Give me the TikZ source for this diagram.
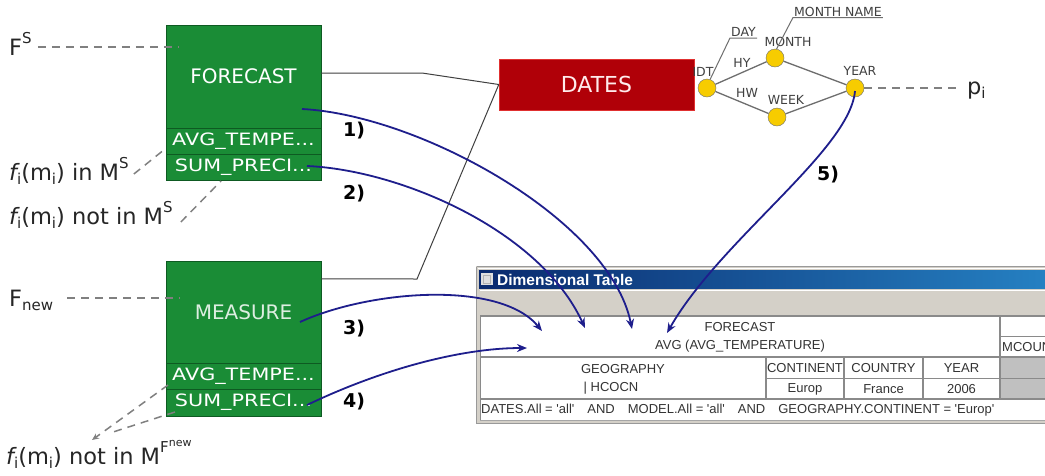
\documentclass[tikz,border=0pt]{standalone}
\usepackage{fontspec}
\usepackage{graphicx}
\setmainfont{DejaVu Sans}
\newfontfamily\tabfont{Liberation Sans}
\usetikzlibrary{arrows.meta}

\definecolor{boxgreen}{HTML}{1A8C36}
\definecolor{boxgreenline}{HTML}{0E5A22}
\definecolor{datesred}{HTML}{B00008}
\definecolor{datesedge}{HTML}{E03030}
\definecolor{arrowblue}{HTML}{1E1E8C}
\definecolor{levelyellow}{HTML}{F7CC00}
\definecolor{wingray}{HTML}{D4D0C8}
\definecolor{gridgray}{HTML}{8A8A8A}
\definecolor{cellgray}{HTML}{C0C0C0}
\definecolor{titleL}{HTML}{0A2A6E}
\definecolor{titleR}{HTML}{2580C2}
\definecolor{edgegray}{HTML}{6E6E6E}
\definecolor{labgray}{HTML}{404040}

\newcommand\subtxt[1]{\raisebox{-0.22em}{\fontsize{15}{15}\selectfont #1}}
\newcommand\suptxt[1]{\raisebox{0.5em}{\fontsize{15}{15}\selectfont #1}}
\newcommand\rowtxt[1]{\scalebox{1.22}[1]{#1}}
\newcommand\q{\textquotesingle}

\begin{document}
\begin{tikzpicture}[x=1pt,y=-1pt,
  factbox/.style={draw=boxgreenline, fill=boxgreen, minimum width=155pt,
    inner sep=0pt, text=white, font=\fontsize{20}{20}\selectfont},
  rowbox/.style={draw=boxgreenline, fill=boxgreen, minimum width=155pt,
    inner sep=0pt, text=white, font=\fontsize{17}{17}\selectfont},
  lbl/.style={inner sep=0pt, text=black!85, font=\fontsize{22.5}{22.5}\selectfont},
  num/.style={inner sep=0pt, font=\bfseries\fontsize{19}{19}\selectfont},
  level/.style={circle, draw=edgegray, fill=levelyellow, minimum size=18pt, inner sep=0pt},
  lvltxt/.style={inner sep=0pt, text=labgray, font=\fontsize{12.5}{12.5}\selectfont},
  edge/.style={draw=edgegray, line width=1.3pt},
  dashline/.style={draw=gray, dash pattern=on 8pt off 6pt, line width=1.5pt},
  link/.style={draw=black!75, line width=1pt},
  mapping/.style={draw=arrowblue, line width=1.8pt, -{Stealth[length=10pt,width=8pt]}},
  tabtxt/.style={inner sep=0pt, text=black!80, font=\tabfont\fontsize{13}{13}\selectfont},
  grid/.style={draw=gridgray, line width=1.6pt}
]
\useasboundingbox (0,0) rectangle (1045,475);
\fill[white] (0,0) rectangle (1045,475);

% ---------- dimensional table window ----------
\fill[wingray] (476,266) rectangle (1045,424);
\draw[gray!80] (476.5,266.5) -- (1045,266.5);
\draw[gray!80] (476.5,266.5) -- (476.5,423.5) -- (1045,423.5);
\draw[white] (478,268) -- (1045,268);
\shade[left color=titleL, right color=titleR] (479,270) rectangle (1045,288);
\fill[gray!25] (481,272.5) rectangle (493,285);
\draw[gray!60] (483,275) rectangle (490,283);
\node[anchor=west, inner sep=0pt, text=white, font=\tabfont\bfseries\fontsize{15.5}{15.5}\selectfont]
  (title) at (497,279.5) {Dimensional Table};
\draw[white, line width=1pt] (480,290) -- (1045,290);
\fill[white] (480,316) rectangle (1045,420);
\fill[cellgray] (1000,357) rectangle (1045,399);
\draw[grid] (480,316) -- (1045,316);
\draw[grid] (480,357) -- (1045,357);
\draw[grid] (766,378.5) -- (1045,378.5);
\draw[grid] (480,399) -- (1045,399);
\draw[grid] (1000,336.5) -- (1045,336.5);
\draw[grid] (1000,316) -- (1000,399);
\draw[grid] (766,357) -- (766,399);
\draw[grid] (844,357) -- (844,399);
\draw[grid] (923,357) -- (923,399);
\draw[grid] (480.5,316) -- (480.5,420);
\draw[gray!70, line width=1pt] (480,420.5) -- (1045,420.5);

\node[tabtxt] (hfc) at (740,327) {FORECAST};
\node[tabtxt] (havg) at (740,346) {AVG (AVG\_TEMPERATURE)};
\node[tabtxt] (hgeo) at (623,369) {GEOGRAPHY};
\node[tabtxt] (hhc) at (611,388.5) {| HCOCN};
\node[tabtxt] (hcont) at (805,368.5) {CONTINENT};
\node[tabtxt] (hctry) at (883.5,368.5) {COUNTRY};
\node[tabtxt] (hyear) at (961.5,368.5) {YEAR};
\node[tabtxt] (veur) at (805,389) {Europ};
\node[tabtxt] (vfr) at (883.5,389) {France};
\node[tabtxt] (vyr) at (961.5,389) {2006};
\node[tabtxt, anchor=west] (cond) at (481,410)
  {DATES.All = \q all\q\hspace{13pt}AND\hspace{13pt}MODEL.All = \q all\q\hspace{13pt}AND\hspace{13pt}GEOGRAPHY.CONTINENT = \q Europ\q};
\begin{scope}
  \clip (1001,337.5) rectangle (1045,356);
  \node[tabtxt, anchor=west] (mcount) at (1002,347) {MCOUNT};
\end{scope}

% ---------- fact schemata ----------
\node[factbox, minimum height=103pt] (fc) at (243.5,76.5) {FORECAST};
\node[rowbox, minimum height=26pt] (fcavg) at (243.5,141) {\rowtxt{AVG\_TEMPE...}};
\node[rowbox, minimum height=26pt] (fcsum) at (243.5,167) {\rowtxt{SUM\_PRECI...}};

\node[factbox, minimum height=102pt, text=white!85!boxgreen] (ms) at (243.5,312) {MEASURE};
\node[rowbox, minimum height=26pt] (msavg) at (243.5,376) {\rowtxt{AVG\_TEMPE...}};
\node[rowbox, minimum height=27pt] (mssum) at (243.5,402.5) {\rowtxt{SUM\_PRECI...}};

% ---------- DATES dimension and its hierarchy ----------
\node[draw=datesedge, fill=datesred, minimum width=195pt, minimum height=51pt, inner sep=0pt,
  text=white!92!red, font=\fontsize{22}{22}\selectfont] (dates) at (596.5,84.5) {DATES};

\node[level] (idt) at (707,88) {};
\node[level] (month) at (775,58) {};
\node[level] (week) at (777,117) {};
\node[level] (year) at (855,88) {};

\draw[edge] (idt) -- (month);
\draw[edge] (idt) -- (week);
\draw[edge] (month) -- (year);
\draw[edge] (week) -- (year);

\node[lvltxt] (lidt) at (703,72) {IDT};
\node[lvltxt] (lmonth) at (788,42) {MONTH};
\node[lvltxt] (lweek) at (786,100) {WEEK};
\node[lvltxt] (lyear) at (860,71) {YEAR};
\node[lvltxt] (lhy) at (742,63) {HY};
\node[lvltxt] (lhw) at (747,93) {HW};

\coordinate (dayknee) at (730,38);
\node[lvltxt, anchor=south west, inner sep=1pt] (lday) at (dayknee) {DAY};
\draw[edge, line width=1pt] (idt.70) -- (dayknee) -- (lday.south east);
\coordinate (mnknee) at (793,17.5);
\node[lvltxt, anchor=south west, inner sep=1pt] (lmn) at (mnknee) {MONTH NAME};
\draw[edge, line width=1pt] (month.80) -- (mnknee) -- (lmn.south east);

% ---------- fact-to-dimension links ----------
\draw[link] ([yshift=3.5pt]fc.east) -- (422,73) -- (dates.west);
\draw[link] ([yshift=-18pt]ms.north east) -- (417,279) -- (dates.west);

% ---------- side labels ----------
\node[lbl, anchor=base west] (fs) at (9,55) {F\suptxt{S}};
\coordinate (fsend) at (178,47);
\draw[dashline] ([shift={(6pt,8pt)}]fs.base east) -- (fsend);

\node[lbl, anchor=base west] (inms) at (9,180) {{\itshape f}\subtxt{i}(m\subtxt{i}) in M\suptxt{S}};
\coordinate (inmsend) at (165,149);
\draw[dashline] ([shift={(5pt,6pt)}]inms.base east) -- (inmsend);

\node[lbl, anchor=base west] (notinms) at (9,224) {{\itshape f}\subtxt{i}(m\subtxt{i}) not in M\suptxt{S}};
\coordinate (notinmsend) at (221,181);
\draw[dashline] ([shift={(8pt,2pt)}]notinms.base east) -- (notinmsend);

\node[lbl, anchor=base west] (fnew) at (9,306) {F\subtxt{new}};
\coordinate (fnewend) at (180,298);
\draw[dashline] ([shift={(14pt,8pt)}]fnew.base east) -- (fnewend);

\node[lbl, anchor=base west] (notinmf) at (6,464)
  {{\itshape f}\subtxt{i}(m\subtxt{i}) not in M\raisebox{0.5em}{\fontsize{15}{15}\selectfont F\raisebox{0.45em}{\fontsize{11}{11}\selectfont new}}};
\coordinate (mfa) at (168,385);
\coordinate (mfb) at (175,412);
\draw[dashline, -{Stealth[length=7pt,width=6pt]}] (mfa) -- (92,440);
\draw[dashline] (mfb) -- (110,433);

\node[lbl, anchor=base west] (pi) at (967,94) {p\subtxt{i}};
\draw[dashline] (year.east) -- ([xshift=-7pt]pi.west |- year.east);

% ---------- mapping arrows ----------
\coordinate (m1s) at (302,109);
\coordinate (m1e) at (632,329);
\coordinate (m2s) at (307,166);
\coordinate (m2e) at (585,328);
\coordinate (m3s) at (300,322);
\coordinate (m3e) at (542,331);
\coordinate (m4s) at (307,405);
\coordinate (m4e) at (527,348);
\coordinate (m5s) at (855,91);
\coordinate (m5e) at (667,333);

\draw[mapping] (m1s) .. controls (420,115) and (610,220) .. (m1e);
\draw[mapping] (m2s) .. controls (400,170) and (540,230) .. (m2e);
\draw[mapping] (m3s) .. controls (370,290) and (500,280) .. (m3e);
\draw[mapping] (m4s) .. controls (380,370) and (460,348) .. (m4e);
\draw[mapping] (m5s) .. controls (850,150) and (720,240) .. (m5e);

\node[num] (n1) at (354,131) {1)};
\node[num] (n2) at (354,194) {2)};
\node[num] (n3) at (354,329) {3)};
\node[num] (n4) at (354,402) {4)};
\node[num] (n5) at (828,175) {5)};
\end{tikzpicture}
\end{document}
